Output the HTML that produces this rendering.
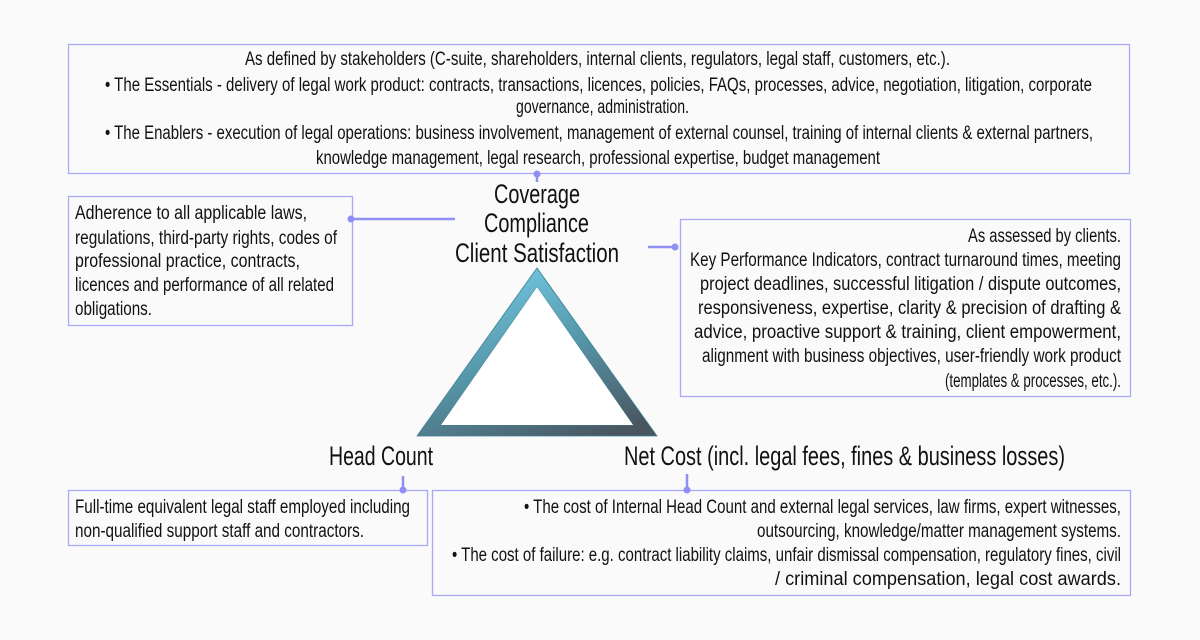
<!DOCTYPE html>
<html><head><meta charset="utf-8"><style>
html,body{margin:0;padding:0;background:#fafafa;}
svg{display:block}
text{font-family:"Liberation Sans Narrow","Liberation Sans",sans-serif;fill:#111;}
.s{font-size:19px}
.b{font-size:27px}
</style></head><body>
<svg width="1200" height="640" viewBox="0 0 1200 640" xmlns="http://www.w3.org/2000/svg">
<defs>
<linearGradient id="g" x1="0.3" y1="0" x2="0.8" y2="1">
<stop offset="0" stop-color="#72c9e2"/><stop offset="0.5" stop-color="#5595a8"/><stop offset="1" stop-color="#4a5560"/>
</linearGradient>
</defs>
<rect x="0" y="0" width="1200" height="640" fill="#fafafa"/>
<g fill="none" stroke="#a9a9f7" stroke-width="1.3">
<rect x="68.5" y="44.5" width="1061" height="129"/>
<rect x="68.5" y="196.5" width="284" height="129"/>
<rect x="680.5" y="219.5" width="450" height="177"/>
<rect x="68.5" y="490.5" width="359" height="55"/>
<rect x="432.5" y="490.5" width="698" height="105"/>
</g>
<g stroke="#8f8ff5" stroke-width="2.5" fill="#8f8ff5">
<line x1="537" y1="174" x2="537" y2="182"/><circle cx="537" cy="174" r="3.5" stroke="none"/>
<line x1="351" y1="219" x2="455" y2="219"/><circle cx="351" cy="219" r="3.5" stroke="none"/>
<line x1="648" y1="247" x2="675" y2="247"/><circle cx="675" cy="247" r="3.5" stroke="none"/>
<line x1="403" y1="476" x2="403" y2="490"/><circle cx="403" cy="490" r="3.5" stroke="none"/>
<line x1="687" y1="474" x2="687" y2="490"/><circle cx="687" cy="490" r="3.5" stroke="none"/>
</g>
<path d="M537 268 L417 436 L657 436 Z M537 287 L441 425 L633 425 Z" fill="url(#g)" fill-rule="evenodd" stroke="#3d7f92" stroke-width="0.8"/>
<path d="M537 287 L441 425 L633 425 Z" fill="#fff"/>

<g class="s">
<text x="245" y="65" textLength="705" lengthAdjust="spacingAndGlyphs">As defined by stakeholders (C-suite, shareholders, internal clients, regulators, legal staff, customers, etc.).</text>
<text x="105" y="91" textLength="987" lengthAdjust="spacingAndGlyphs">• The Essentials - delivery of legal work product: contracts, transactions, licences, policies, FAQs, processes, advice, negotiation, litigation, corporate</text>
<text x="516" y="113" textLength="173" lengthAdjust="spacingAndGlyphs">governance, administration.</text>
<text x="105" y="139" textLength="988" lengthAdjust="spacingAndGlyphs">• The Enablers - execution of  legal operations: business involvement, management of external counsel, training of internal clients &amp; external partners,</text>
<text x="316" y="164" textLength="564" lengthAdjust="spacingAndGlyphs">knowledge management, legal research, professional expertise, budget management</text>

<text x="75" y="219" textLength="232" lengthAdjust="spacingAndGlyphs">Adherence to all applicable laws,</text>
<text x="75" y="244" textLength="262" lengthAdjust="spacingAndGlyphs">regulations, third-party rights, codes of</text>
<text x="75" y="267" textLength="225" lengthAdjust="spacingAndGlyphs">professional practice, contracts,</text>
<text x="75" y="291" textLength="259" lengthAdjust="spacingAndGlyphs">licences and performance of all related</text>
<text x="75" y="315" textLength="77" lengthAdjust="spacingAndGlyphs">obligations.</text>

<text x="968" y="242" textLength="153" lengthAdjust="spacingAndGlyphs">As assessed by clients.</text>
<text x="690" y="266" textLength="431" lengthAdjust="spacingAndGlyphs">Key Performance Indicators, contract turnaround times, meeting</text>
<text x="700" y="290" textLength="421" lengthAdjust="spacingAndGlyphs">project deadlines, successful litigation / dispute outcomes,</text>
<text x="698" y="314" textLength="423" lengthAdjust="spacingAndGlyphs">responsiveness, expertise, clarity &amp; precision of drafting &amp;</text>
<text x="694" y="338" textLength="427" lengthAdjust="spacingAndGlyphs">advice, proactive support &amp; training, client empowerment,</text>
<text x="702" y="362" textLength="419" lengthAdjust="spacingAndGlyphs">alignment with business objectives, user-friendly work product</text>
<text x="945" y="387" textLength="176" lengthAdjust="spacingAndGlyphs">(templates &amp; processes, etc.).</text>

<text x="75" y="513" textLength="335" lengthAdjust="spacingAndGlyphs">Full-time equivalent legal staff employed including</text>
<text x="75" y="537" textLength="289" lengthAdjust="spacingAndGlyphs">non-qualified support staff and contractors.</text>

<text x="524" y="513" textLength="597" lengthAdjust="spacingAndGlyphs">• The cost of Internal Head Count and external legal services, law firms, expert witnesses,</text>
<text x="757" y="537" textLength="364" lengthAdjust="spacingAndGlyphs">outsourcing, knowledge/matter management systems.</text>
<text x="452" y="561" textLength="669" lengthAdjust="spacingAndGlyphs">• The cost of failure: e.g. contract liability claims, unfair dismissal compensation, regulatory fines, civil</text>
<text x="775" y="585" textLength="346" lengthAdjust="spacingAndGlyphs">/ criminal compensation, legal cost awards.</text>
</g>

<g class="b">
<text x="494" y="203" textLength="86" lengthAdjust="spacingAndGlyphs">Coverage</text>
<text x="484" y="232" textLength="105" lengthAdjust="spacingAndGlyphs">Compliance</text>
<text x="455" y="262" textLength="164" lengthAdjust="spacingAndGlyphs">Client Satisfaction</text>
<text x="329" y="465" textLength="104" lengthAdjust="spacingAndGlyphs">Head Count</text>
<text x="624" y="465" textLength="441" lengthAdjust="spacingAndGlyphs">Net Cost (incl. legal fees, fines &amp; business losses)</text>
</g>
</svg>
</body></html>
